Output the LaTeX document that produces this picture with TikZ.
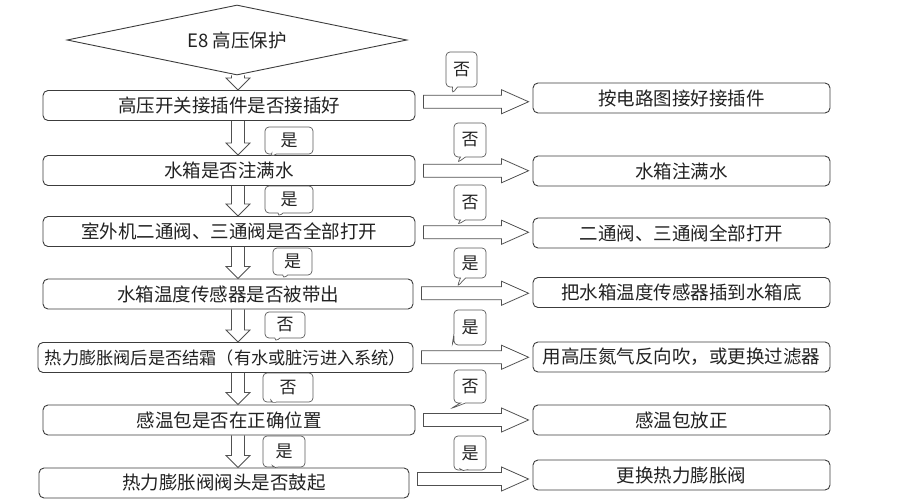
\documentclass[tikz,border=0pt]{standalone}
\usepackage{fontspec}
\setmainfont{Noto Sans CJK SC}
\usepackage{tikz}
\usetikzlibrary{shapes.geometric,shapes.callouts,calc}
\definecolor{lineG}{HTML}{3C3C3C}
\definecolor{arrG}{HTML}{505050}
\definecolor{tagG}{HTML}{5A5A5A}
\definecolor{textG}{HTML}{222222}
\tikzset{
  chk/.style={rectangle, rounded corners=5pt, draw=lineG, line width=0.9pt, fill=white,
              minimum height=30pt, inner sep=0pt, text=textG, font=\fontsize{18.5}{20}\selectfont},
  fixbox/.style={chk, minimum width=297pt},
  tagbox/.style={rectangle callout, rounded corners=4pt, draw=tagG, line width=0.7pt, fill=white,
                 inner sep=0pt, callout pointer width=5pt, text=textG, font=\fontsize{17}{18}\selectfont},
  downarr/.style={draw=arrG, line width=0.8pt, to path={
      let \p1=(\tikztostart), \p2=(\tikztotarget) in
      (\x1-6.5pt,\y1) -- (\x1-6.5pt,\y2+12pt) -- (\x1-12pt,\y2+12pt) -- (\x1,\y2)
      -- (\x1+12pt,\y2+12pt) -- (\x1+6.5pt,\y2+12pt) -- (\x1+6.5pt,\y1)}},
  rightarr/.style={draw=arrG, line width=0.8pt, to path={
      let \p1=(\tikztostart), \p2=(\tikztotarget), \p3=($(\tikztostart)!.5!(\tikztotarget)$) in
      (\x1,\y3+6.5pt) -- (\x2-27pt,\y3+6.5pt) -- (\x2-27pt,\y3+12pt) -- (\x2,\y3)
      -- (\x2-27pt,\y3-12pt) -- (\x2-27pt,\y3-6.5pt) -- (\x1,\y3-6.5pt) -- cycle}},
}
\begin{document}
\begin{tikzpicture}[x=1pt, y=-1pt]
\useasboundingbox (0,0) rectangle (910,500);
\coordinate (dn) at (238,0);
% start
\node[diamond, aspect=4.9, draw=lineG, line width=0.9pt, minimum width=340pt, minimum height=70pt, inner sep=0pt, text=textG, font=\fontsize{18.5}{20}\selectfont] (top) at (237,40) {E8 高压保护};
% checks
\node[chk, minimum width=372pt] (c1) at (229,105.5) {高压开关接插件是否接插好};
\node[chk, minimum width=372pt] (c2) at (229,170.5) {水箱是否注满水};
\node[chk, minimum width=372pt] (c3) at (229,231.5) {室外机二通阀、三通阀是否全部打开};
\node[chk, minimum width=370pt] (c4) at (228,294) {水箱温度传感器是否被带出};
\node[chk, minimum width=375pt, font=\fontsize{17.2}{19}\selectfont] (c5) at (225.5,357.5) {热力膨胀阀后是否结霜（有水或脏污进入系统）};
\node[chk, minimum width=372pt] (c6) at (229,420) {感温包是否在正确位置};
\node[chk, minimum width=370pt] (c7) at (224,483) {热力膨胀阀阀头是否鼓起};
% fixes
\node[fixbox] (f1) at (681.5,98) {按电路图接好接插件};
\node[fixbox] (f2) at (681.5,171) {水箱注满水};
\node[fixbox] (f3) at (681.5,233) {二通阀、三通阀全部打开};
\node[fixbox] (f4) at (681.5,292.5) {把水箱温度传感器插到水箱底};
\node[fixbox] (f5) at (681.5,357) {用高压氮气反向吹，或更换过滤器};
\node[fixbox] (f6) at (681.5,420) {感温包放正};
\node[fixbox] (f7) at (681.5,475) {更换热力膨胀阀};
% down
\draw[downarr] (top.south -| dn) to (c1.north -| dn);
\draw[downarr] (c1.south -| dn) to (c2.north -| dn);
\draw[downarr] (c2.south -| dn) to (c3.north -| dn);
\draw[downarr] (c3.south -| dn) to (c4.north -| dn);
\draw[downarr] (c4.south -| dn) to (c5.north -| dn);
\draw[downarr] (c5.south -| dn) to (c6.north -| dn);
\draw[downarr] (c6.south -| dn) to (c7.north -| dn);
% right
\draw[rightarr] ([xshift=8pt]c1.east) to ([xshift=-4pt]f1.west);
\draw[rightarr] ([xshift=8pt]c2.east) to ([xshift=-4pt]f2.west);
\draw[rightarr] ([xshift=8pt]c3.east) to ([xshift=-4pt]f3.west);
\draw[rightarr] ([xshift=8pt]c4.east) to ([xshift=-4pt]f4.west);
\draw[rightarr] ([xshift=8pt]c5.east) to ([xshift=-4pt]f5.west);
\draw[rightarr] ([xshift=8pt]c6.east) to ([xshift=-4pt]f6.west);
\draw[rightarr] ([xshift=8pt]c7.east) to ([xshift=-4pt]f7.west);
% yes / no tags
\node[tagbox, minimum width=48pt, minimum height=27pt, callout absolute pointer={(270,157)}] (t1) at (289,140.5) {是};
\node[tagbox, minimum width=48pt, minimum height=27pt, callout absolute pointer={(278,217)}] (t2) at (289,199.5) {是};
\node[tagbox, minimum width=39pt, minimum height=27pt, callout absolute pointer={(283,279)}] (t3) at (292.5,261.5) {是};
\node[tagbox, minimum width=40pt, minimum height=26pt, callout absolute pointer={(275,342)}] (t4) at (285,325) {否};
\node[tagbox, minimum width=50pt, minimum height=29pt, callout absolute pointer={(272,404)}] (t5) at (288,387.5) {否};
\node[tagbox, minimum width=42pt, minimum height=31pt, callout absolute pointer={(275,469)}] (t6) at (284,451.5) {是};
\node[tagbox, minimum width=31pt, minimum height=35pt, callout absolute pointer={(452,94)}] (s1) at (461.5,69.5) {否};
\node[tagbox, minimum width=32pt, minimum height=34pt, callout absolute pointer={(457,163)}] (s2) at (470,140) {否};
\node[tagbox, minimum width=32pt, minimum height=35pt, callout absolute pointer={(457,225)}] (s3) at (470,202.5) {否};
\node[tagbox, minimum width=32pt, minimum height=30pt, callout absolute pointer={(457,287)}] (s4) at (470,263) {是};
\node[tagbox, minimum width=32pt, minimum height=35pt, callout absolute pointer={(452,346)}] (s5) at (470,327.5) {是};
\node[tagbox, minimum width=32pt, minimum height=33pt, callout absolute pointer={(450,409)}] (s6) at (470,386.5) {否};
\node[tagbox, minimum width=32pt, minimum height=34pt, callout absolute pointer={(463,472)}] (s7) at (470,453) {是};
\end{tikzpicture}
\end{document}
